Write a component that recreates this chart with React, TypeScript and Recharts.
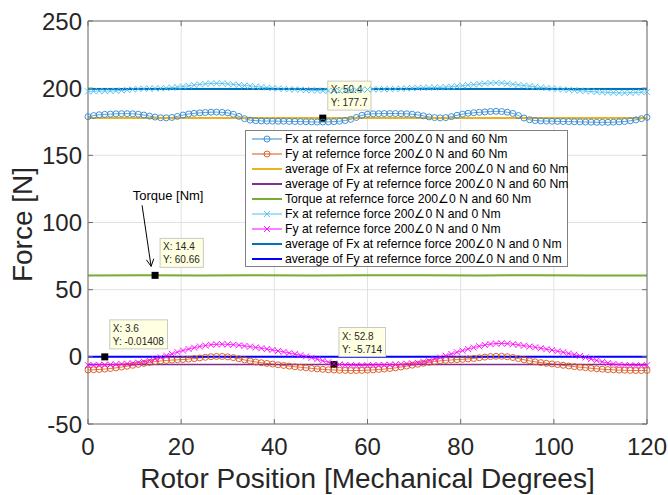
import React from 'react';
import { LineChart, Line, XAxis, YAxis, CartesianGrid, Legend, ReferenceDot } from 'recharts';

const FONT = '"Liberation Sans", Arial, Helvetica, sans-serif';

// rotor position samples (mechanical degrees)
const angles = [
  0, 1.2, 2.4, 3.6, 4.8, 6, 7.2, 8.4, 9.6, 10.8,
  12, 13.2, 14.4, 15.6, 16.8, 18, 19.2, 20.4, 21.6, 22.8,
  24, 25.2, 26.4, 27.6, 28.8, 30, 31.2, 32.4, 33.6, 34.8,
  36, 37.2, 38.4, 39.6, 40.8, 42, 43.2, 44.4, 45.6, 46.8,
  48, 49.2, 50.4, 51.6, 52.8, 54, 55.2, 56.4, 57.6, 58.8,
  60, 61.2, 62.4, 63.6, 64.8, 66, 67.2, 68.4, 69.6, 70.8,
  72, 73.2, 74.4, 75.6, 76.8, 78, 79.2, 80.4, 81.6, 82.8,
  84, 85.2, 86.4, 87.6, 88.8, 90, 91.2, 92.4, 93.6, 94.8,
  96, 97.2, 98.4, 99.6, 100.8, 102, 103.2, 104.4, 105.6, 106.8,
  108, 109.2, 110.4, 111.6, 112.8, 114, 115.2, 116.4, 117.6, 118.8,
  120,
];

// Fx, 200∠0 N and 60 Nm
const fx60 = [
  178.8, 179.6, 180.2, 180.5, 180.7, 180.9, 181.0, 181.0, 180.9, 180.6,
  180.0, 179.2, 178.5, 178.0, 177.9, 178.2, 179.0, 180.0, 180.8, 181.3,
  181.6, 181.9, 182.1, 182.2, 182.0, 181.6, 180.6, 179.0, 177.3, 176.2,
  175.8, 175.6, 175.5, 175.5, 175.4, 175.4, 175.3, 175.2, 175.1, 175.0,
  174.9, 174.8, 174.8, 174.9, 175.1, 175.4, 175.9, 176.8, 178.2, 179.8,
  180.6, 180.9, 181.0, 181.1, 181.1, 181.1, 181.0, 180.9, 180.6, 180.1,
  179.4, 178.6, 178.1, 177.9, 178.1, 178.8, 179.8, 180.7, 181.3, 181.7,
  182.0, 182.3, 182.6, 182.8, 182.6, 182.1, 181.2, 179.6, 177.8, 176.5,
  175.9, 175.6, 175.5, 175.4, 175.3, 175.2, 175.1, 175.0, 174.9, 174.8,
  174.7, 174.6, 174.6, 174.6, 174.7, 174.9, 175.2, 175.7, 176.4, 177.3,
  178.3,
];

// Fy, 200∠0 N and 60 Nm
const fy60 = [
  -9.8, -9.6, -9.4, -9.1, -8.7, -8.2, -7.6, -7.0, -6.3, -5.6,
  -4.9, -4.2, -3.6, -3.1, -2.7, -2.4, -2.2, -2.0, -1.7, -1.3,
  -0.8, -0.3, 0.1, 0.3, 0.3, 0.0, -0.6, -1.4, -2.3, -3.1,
  -3.8, -4.4, -4.9, -5.4, -5.9, -6.4, -6.9, -7.4, -7.8, -8.2,
  -8.6, -9.0, -9.3, -9.6, -9.8, -10.0, -10.1, -10.2, -10.2, -10.1,
  -9.9, -9.7, -9.4, -9.1, -8.7, -8.2, -7.6, -6.9, -6.2, -5.5,
  -4.8, -4.1, -3.5, -3.0, -2.6, -2.3, -2.1, -1.9, -1.6, -1.2,
  -0.7, -0.2, 0.2, 0.4, 0.4, 0.1, -0.5, -1.3, -2.2, -3.0,
  -3.7, -4.3, -4.8, -5.3, -5.8, -6.3, -6.8, -7.3, -7.7, -8.1,
  -8.5, -8.9, -9.2, -9.5, -9.7, -9.9, -10.0, -10.1, -10.2, -10.2,
  -10.1,
];

// Fx, 200∠0 N and 0 Nm
const fx0 = [
  197.6, 197.7, 197.8, 197.8, 197.9, 198.0, 198.3, 198.7, 199.1, 199.4,
  199.6, 199.7, 199.8, 199.9, 200.1, 200.4, 200.8, 201.3, 201.8, 202.3,
  202.8, 203.2, 203.5, 203.6, 203.5, 203.2, 202.8, 202.4, 202.0, 201.6,
  201.2, 200.8, 200.4, 200.0, 199.7, 199.4, 199.2, 199.0, 198.8, 198.6,
  198.4, 198.2, 198.0, 197.9, 197.9, 198.0, 198.2, 198.5, 198.7, 198.9,
  199.0, 199.1, 199.2, 199.2, 199.3, 199.4, 199.6, 199.8, 200.0, 200.2,
  200.3, 200.4, 200.5, 200.6, 200.8, 201.1, 201.5, 201.9, 202.3, 202.7,
  203.1, 203.5, 203.8, 204.0, 203.8, 203.4, 202.9, 202.4, 202.0, 201.5,
  201.0, 200.5, 200.1, 199.7, 199.3, 199.0, 198.7, 198.4, 198.1, 197.8,
  197.5, 197.2, 197.0, 196.8, 196.6, 196.5, 196.5, 196.6, 196.8, 197.0,
  197.2,
];

// Fy, 200∠0 N and 0 Nm
const fy0 = [
  -6.2, -6.1, -6.0, -5.9, -5.8, -5.6, -5.4, -5.1, -4.8, -4.3,
  -3.6, -2.7, -1.6, -0.4, 0.9, 2.2, 3.5, 4.7, 5.8, 6.8,
  7.7, 8.4, 9.0, 9.3, 9.4, 9.3, 9.0, 8.6, 8.1, 7.6,
  7.0, 6.4, 5.8, 5.1, 4.4, 3.7, 2.9, 2.1, 1.2, 0.3,
  -0.7, -1.8, -2.9, -4.0, -5.0, -5.7, -6.1, -6.3, -6.4, -6.4,
  -6.3, -6.2, -6.1, -6.0, -5.9, -5.7, -5.5, -5.2, -4.9, -4.4,
  -3.7, -2.8, -1.7, -0.5, 0.8, 2.1, 3.4, 4.6, 5.8, 6.9,
  7.9, 8.8, 9.5, 9.9, 10.0, 9.8, 9.4, 8.9, 8.3, 7.7,
  7.1, 6.4, 5.7, 5.0, 4.2, 3.4, 2.5, 1.6, 0.6, -0.5,
  -1.6, -2.7, -3.7, -4.6, -5.3, -5.8, -6.1, -6.3, -6.4, -6.4,
  -6.3,
];

// torque at 60 Nm reference
const torqueAngles = [0, 12, 24, 36, 48, 60, 72, 84, 96, 108, 120];
const torque = [60.6, 60.7, 60.6, 60.7, 60.6, 60.66, 60.7, 60.6, 60.7, 60.6, 60.6];

// averages
const avgFx60 = 177.7;
const avgFy60 = -5.714;
const avgFx0 = 199.4;
const avgFy0 = -0.01408;

// data tips
const tipX = [50.4, 14.4, 3.6, 52.8];
const tipY = [177.7, 60.66, -0.01408, -5.714];

const xTicks = [0, 20, 40, 60, 80, 100, 120];
const yTicks = [-50, 0, 50, 100, 150, 200, 250];

const legendLabels = [
  'Fx at refernce force 200\u22200 N and 60 Nm',
  'Fy at refernce force 200\u22200 N and 60 Nm',
  'average of Fx at refernce force 200\u22200 N and 60 Nm',
  'average of Fy at refernce force 200\u22200 N and 60 Nm',
  'Torque at refernce force 200\u22200 N and 60 Nm',
  'Fx at refernce force 200\u22200 N and 0 Nm',
  'Fy at refernce force 200\u22200 N and 0 Nm',
  'average of Fx at refernce force 200\u22200 N and 0 Nm',
  'average of Fy at refernce force 200\u22200 N and 0 Nm',
];
const legendColors = ['#2f86d0', '#D95319', '#EDB120', '#7E2F8E', '#77AC30', '#4DBEEE', '#FF00FF', '#0072BD', '#0000FF'];
const legendMarkers = ['o', 'o', '', '', '', 'x', 'x', '', ''];
const legendWidths = [1, 1, 2, 2, 2, 1, 1, 2, 2];

const rows = angles.map((a, i) => ({ a, fx60: fx60[i], fy60: fy60[i], fx0: fx0[i], fy0: fy0[i] }));
const flat = (v: number) => [{ a: 0, v }, { a: 120, v }];
const torqueRows = torqueAngles.map((a, i) => ({ a, v: torque[i] }));

const TEXT = '#262626';
const AXIS = '#707070';

const XTick = (p: any) => (
  <text x={p.x} y={p.y + 36} textAnchor="middle" fontSize={24} fill={TEXT} fontFamily={FONT}>
    {p.payload.value}
  </text>
);

const YTick = (p: any) => (
  <text x={p.x - 11} y={p.y + 8.5} textAnchor="end" fontSize={24} fill={TEXT} fontFamily={FONT}>
    {p.payload.value}
  </text>
);

const NoTick = () => <g />;

const crossDot = (color: string) => (p: any) => {
  const { cx, cy, index } = p;
  if (cx == null || cy == null) return <g key={index} />;
  return (
    <path
      key={index}
      d={`M${cx - 3},${cy - 3}L${cx + 3},${cy + 3}M${cx - 3},${cy + 3}L${cx + 3},${cy - 3}`}
      stroke={color}
      strokeWidth={0.9}
      fill="none"
    />
  );
};

const textW = (s: string) =>
  s.split('').reduce((w, c) => w + (/[0-9]/.test(c) ? 5.56 : c === '-' ? 3.33 : c === 'X' || c === 'Y' ? 6.67 : 2.78), 0);

const DataTip = ({ cx, cy, i }: { cx: number; cy: number; i: number }) => {
  const l1 = `X: ${tipX[i]}`;
  const l2 = `Y: ${tipY[i]}`;
  const w = Math.max(textW(l1), textW(l2)) + 6;
  const bx = cx + 5;
  const by = cy - 37;
  return (
    <g>
      <rect x={bx} y={by} width={w} height={29} fill="#FFFFE1" stroke="#c8c8c8" strokeWidth={1} />
      <text x={bx + 3} y={by + 12} fontSize={10} fill={TEXT} fontFamily={FONT}>{l1}</text>
      <text x={bx + 3} y={by + 25} fontSize={10} fill={TEXT} fontFamily={FONT}>{l2}</text>
      <rect x={cx - 3.5} y={cy - 3.5} width={7} height={7} fill="#000" />
      {i === 1 && (
        <g>
          <text x={cx + 13} y={cy - 75} textAnchor="middle" fontSize={13} fill="#000" fontFamily={FONT}>
            Torque [Nm]
          </text>
          <line x1={cx - 13} y1={cy - 70} x2={cx - 4} y2={cy - 9} stroke="#000" strokeWidth={1} />
          <path d={`M${cx - 8.6},${cy - 15.5}L${cx - 4},${cy - 9}L${cx - 1.3},${cy - 16.6}`} stroke="#000" strokeWidth={1} fill="none" />
        </g>
      )}
    </g>
  );
};

const LegendBox = () => (
  <div
    style={{
      width: 323,
      height: 137,
      boxSizing: 'border-box',
      border: '1px solid #808080',
      background: '#fff',
      paddingTop: 1,
      fontFamily: FONT,
      fontSize: 12.2,
      color: '#000',
    }}
  >
    {legendLabels.map((label, i) => (
      <div key={label} style={{ height: 14.9, display: 'flex', alignItems: 'center', whiteSpace: 'nowrap' }}>
        <svg width={37} height={10} style={{ flex: 'none' }}>
          <line x1={6} y1={5} x2={36} y2={5} stroke={legendColors[i]} strokeWidth={legendWidths[i]} />
          {legendMarkers[i] === 'o' && <circle cx={21} cy={5} r={3} fill="none" stroke={legendColors[i]} strokeWidth={0.9} />}
          {legendMarkers[i] === 'x' && (
            <path d="M18,2L24,8M18,8L24,2" stroke={legendColors[i]} strokeWidth={0.9} />
          )}
        </svg>
        <span style={{ marginLeft: 2 }}>{label}</span>
      </div>
    ))}
  </div>
);

export default function App() {
  return (
    <div style={{ position: 'absolute', left: 0, top: 0, width: 668, height: 495, background: '#fff' }}>
      <LineChart width={668} height={495} data={rows} margin={{ top: 20, right: 20, bottom: 0, left: 0 }}>
        <CartesianGrid stroke="#e2e2e2" />
        <XAxis
          dataKey="a"
          type="number"
          domain={[0, 120]}
          ticks={xTicks}
          height={71}
          stroke={AXIS}
          tickSize={-5}
          tickMargin={0}
          tick={XTick}
          label={{
            content: (p: any) => {
              const vb = p.viewBox;
              return (
                <text x={vb.x + vb.width / 2} y={vb.y + 64} textAnchor="middle" fontSize={28} fill={TEXT} fontFamily={FONT}>
                  Rotor Position [Mechanical Degrees]
                </text>
              );
            },
          }}
        />
        <XAxis
          xAxisId="top"
          orientation="top"
          dataKey="a"
          type="number"
          domain={[0, 120]}
          ticks={xTicks}
          height={1}
          stroke={AXIS}
          tickSize={-5}
          tickMargin={0}
          tick={NoTick}
        />
        <YAxis
          type="number"
          domain={[-50, 250]}
          ticks={yTicks}
          width={88}
          stroke={AXIS}
          tickSize={-5}
          tickMargin={0}
          tick={YTick}
          allowDataOverflow
          label={{
            content: (p: any) => {
              const vb = p.viewBox;
              const x = vb.x + 32;
              const y = vb.y + vb.height / 2 + 2;
              return (
                <text x={x} y={y} transform={`rotate(-90 ${x} ${y})`} textAnchor="middle" fontSize={28} fill={TEXT} fontFamily={FONT}>
                  Force [N]
                </text>
              );
            },
          }}
        />
        <YAxis
          yAxisId="right"
          orientation="right"
          type="number"
          domain={[-50, 250]}
          ticks={yTicks}
          width={1}
          stroke={AXIS}
          tickSize={-5}
          tickMargin={0}
          tick={NoTick}
          allowDataOverflow
        />

        <Line dataKey="fx60" stroke={legendColors[0]} strokeWidth={0.8}
          dot={{ r: 3, fill: 'none', strokeWidth: 0.9 }} activeDot={false} isAnimationActive={false} />
        <Line dataKey="fy60" stroke={legendColors[1]} strokeWidth={0.8}
          dot={{ r: 3, fill: 'none', strokeWidth: 0.9 }} activeDot={false} isAnimationActive={false} />
        <Line data={flat(avgFx60)} dataKey="v" stroke={legendColors[2]} strokeWidth={2} dot={false} activeDot={false} isAnimationActive={false} />
        <Line data={flat(avgFy60)} dataKey="v" stroke={legendColors[3]} strokeWidth={1.6} dot={false} activeDot={false} isAnimationActive={false} />
        <Line data={torqueRows} dataKey="v" stroke={legendColors[4]} strokeWidth={2} dot={false} activeDot={false} isAnimationActive={false} />
        <Line dataKey="fx0" stroke={legendColors[5]} strokeWidth={0.8}
          dot={crossDot(legendColors[5])} activeDot={false} isAnimationActive={false} />
        <Line dataKey="fy0" stroke={legendColors[6]} strokeWidth={0.8}
          dot={crossDot(legendColors[6])} activeDot={false} isAnimationActive={false} />
        <Line data={flat(avgFx0)} dataKey="v" stroke={legendColors[7]} strokeWidth={2} dot={false} activeDot={false} isAnimationActive={false} />
        <Line data={flat(avgFy0)} dataKey="v" stroke={legendColors[8]} strokeWidth={2} dot={false} activeDot={false} isAnimationActive={false} />

        {tipX.map((x, i) => (
          <ReferenceDot
            key={`tip${i}`}
            x={x}
            y={tipY[i]}
            r={4}
            ifOverflow="visible"
            shape={(p: any) => <DataTip cx={p.cx} cy={p.cy} i={i} />}
          />
        ))}

        <Legend
          layout="vertical"
          align="center"
          verticalAlign="middle"
          wrapperStyle={{ left: 245, top: 130, width: 323, height: 137 }}
          content={() => <LegendBox />}
        />
      </LineChart>
    </div>
  );
}
